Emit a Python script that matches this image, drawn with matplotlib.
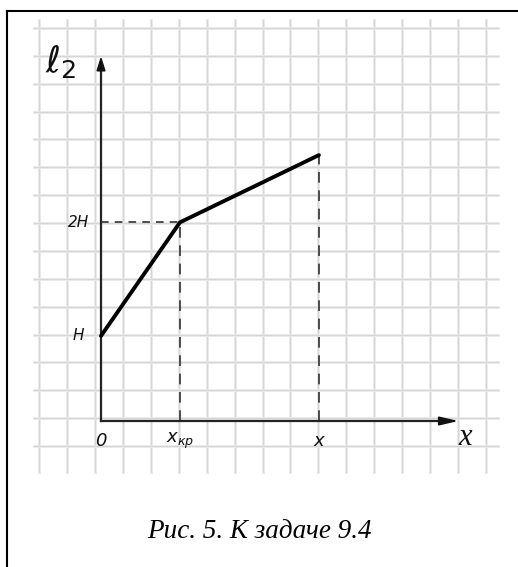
import matplotlib.pyplot as plt
import matplotlib.patches as mpatches
from matplotlib.lines import Line2D

# graph of l2 vs x, in grid-cell units (origin at the axes corner)
x_points = [0.0, 2.83, 7.81]
l2_points = [3.05, 7.12, 9.53]

tick_x = [0.0, 2.83, 7.81]
tick_x_labels = ["0", r"$x_{кр}$", "x"]
tick_y = [3.05, 7.12]
tick_y_labels = ["H", "2H"]

caption = "Рис. 5. К задаче 9.4"

CELL = 27.9        # pixels per grid cell
X0, Y0 = 101, 421  # pixel position of the origin
W, H = 518, 567


def main():
    fig = plt.figure(figsize=(W / 100, H / 100), dpi=100)
    ax = fig.add_axes([0, 0, 1, 1])
    ax.set_xlim(-X0 / CELL, (W - X0) / CELL)
    ax.set_ylim((Y0 - H) / CELL, Y0 / CELL)
    ax.axis("off")

    # squared paper
    gx0, gx1 = (34 - X0) / CELL, (498 - X0) / CELL
    gy0, gy1 = (Y0 - 472) / CELL, (Y0 - 20) / CELL
    for k in range(17):
        xv = (39 - X0) / CELL + k * 27.94 / CELL
        ax.plot([xv, xv], [gy0, gy1], color="#e8e8e8", lw=2.0, zorder=1)
        ax.plot([xv, xv], [gy0, gy1], color="#d6d6d6", lw=0.7, zorder=1)
    for k in range(17):
        yv = (Y0 - 28) / CELL - k * 27.87 / CELL
        if gy0 <= yv <= gy1:
            ax.plot([gx0, gx1], [yv, yv], color="#e8e8e8", lw=2.0, zorder=1)
            ax.plot([gx0, gx1], [yv, yv], color="#d6d6d6", lw=0.7, zorder=1)

    # axes with arrows
    y_top = 13.0
    x_end = 12.7
    ax.plot([0, 0], [0, y_top - 0.3], color="#222222", lw=1.6, zorder=3)
    ax.plot([0, x_end - 0.4], [0, 0], color="#222222", lw=1.6, zorder=3)
    ax.add_patch(mpatches.Polygon([[-0.14, y_top - 0.45], [0.14, y_top - 0.45], [0, y_top]],
                                  closed=True, color="#111111", zorder=4))
    ax.add_patch(mpatches.Polygon([[x_end - 0.6, 0.14], [x_end - 0.6, -0.14], [x_end, 0]],
                                  closed=True, color="#111111", zorder=4))

    # dashed guide lines
    ax.plot([0, x_points[1]], [l2_points[1], l2_points[1]], color="#222222", lw=1.1,
            dashes=(5, 4), zorder=2)
    ax.plot([x_points[1], x_points[1]], [0, l2_points[1]], color="#222222", lw=1.1,
            dashes=(7, 5), zorder=2)
    ax.plot([x_points[2], x_points[2]], [0, l2_points[2]], color="#222222", lw=1.1,
            dashes=(7, 5), zorder=2)

    # the broken line itself
    ax.plot(x_points, l2_points, color="#000000", lw=2.8, solid_capstyle="round",
            solid_joinstyle="round", zorder=5)

    # labels
    for xv, lab in zip(tick_x, tick_x_labels):
        ax.text(xv, -0.7, lab, ha="center", va="center", fontsize=13,
                style="italic", color="#111111")
    for yv, lab in zip(tick_y, tick_y_labels):
        ax.text(-0.8, yv, lab, ha="center", va="center", fontsize=11,
                style="italic", color="#111111")
    ax.text(-1.45, 12.9, r"$\ell_2$", ha="center", va="center", fontsize=26,
            color="#111111")
    ax.text(13.05, -0.6, "x", ha="center", va="center", fontsize=22,
            style="italic", family="Liberation Serif", color="#111111")

    ax.text((W / 2 - X0) / CELL, (Y0 - 531) / CELL, caption, ha="center", va="center",
            fontsize=19.5, style="italic", family="Liberation Serif", color="#000000")

    # page frame (left and top edges only; the rest is cut off)
    fy = 1 - 10.5 / H
    fx = 6.5 / W
    fig.lines.append(Line2D([fx, fx], [0, fy], transform=fig.transFigure,
                            color="#000000", lw=1.5))
    fig.lines.append(Line2D([fx, 1], [fy, fy], transform=fig.transFigure,
                            color="#000000", lw=1.5))

    fig.savefig("out.png", dpi=100)


if __name__ == "__main__":
    main()
